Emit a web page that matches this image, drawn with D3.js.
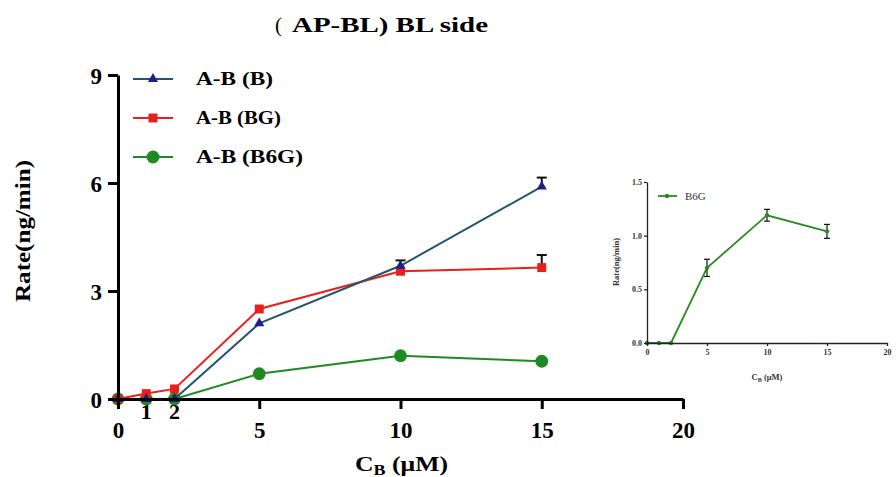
<!DOCTYPE html>
<html>
<head>
<meta charset="utf-8">
<script src="https://cdn.jsdelivr.net/npm/d3@7"></script>
<style>
  body { margin: 0; background: #fff; }
  svg { font-family: "Liberation Serif", "Times New Roman", serif; }
</style>
</head>
<body>
<div id="chart"></div>
<script>
// Data
const concentrations = [0, 1, 2, 5, 10, 15];
const rateB = [0, 0, 0, 2.1, 3.7, 5.9];
const rateBG = [0, 0.15, 0.28, 2.5, 3.55, 3.65];
const rateB6G = [0, 0, 0, 0.7, 1.2, 1.05];
const errB = [0, 0, 0, 0, 0.15, 0.25];
const errBG = [0, 0, 0, 0, 0, 0.35];
const errB6G = [0, 0, 0, 0, 0, 0];
const insetRate = [0, 0, 0, 0.7, 1.19, 1.04];
const insetErr = [0, 0, 0, 0.08, 0.055, 0.065];
const xTicks = [0, 5, 10, 15, 20];
const xExtraTicks = [1, 2];
const yTicks = [0, 3, 6, 9];
const insetYTicks = [0, 0.5, 1.0, 1.5];

const width = 896, height = 477;

const svg = d3.select("#chart").append("svg")
  .attr("width", width)
  .attr("height", height);

// Title (the source text is drawn a bit wide, so stretch it)
const title = svg.append("text")
  .attr("y", 32)
  .attr("font-weight", "bold")
  .attr("font-size", "21px");
title.append("tspan")
  .attr("x", 275)
  .attr("font-weight", "normal")
  .text("(");
title.append("tspan")
  .attr("x", 292)
  .attr("textLength", 196)
  .attr("lengthAdjust", "spacingAndGlyphs")
  .text("AP-BL) BL side");

// === Main chart ===
const x = d3.scaleLinear().domain([0, 20]).range([118, 683]);
const y = d3.scaleLinear().domain([0, 9]).range([399, 75]);

const series = [
  { name: "A-B (B)", len: 77, values: rateB, err: errB, line: "#24566b", marker: "#1a1f8a", shape: d3.symbolTriangle, size: 45 },
  { name: "A-B (BG)", len: 85, values: rateBG, err: errBG, line: "#e8201c", marker: "#e8201c", shape: d3.symbolSquare, size: 80 },
  { name: "A-B (B6G)", len: 107, values: rateB6G, err: errB6G, line: "#1f8a24", marker: "#1f8a24", shape: d3.symbolCircle, size: 130 }
];

const lineGen = d3.line()
  .x((d, i) => x(concentrations[i]))
  .y(d => y(d));

// draw lines: green first, then red, then blue on top
[2, 1, 0].forEach(k => {
  const s = series[k];
  svg.append("path")
    .datum(s.values)
    .attr("fill", "none")
    .attr("stroke", s.line)
    .attr("stroke-width", 2)
    .attr("d", lineGen);

  // upper error bars
  s.values.forEach((v, i) => {
    if (s.err[i] > 0) {
      const cx = x(concentrations[i]);
      svg.append("line")
        .attr("x1", cx).attr("x2", cx)
        .attr("y1", y(v)).attr("y2", y(v + s.err[i]))
        .attr("stroke", "#111").attr("stroke-width", 2);
      svg.append("line")
        .attr("x1", cx - 5).attr("x2", cx + 5)
        .attr("y1", y(v + s.err[i])).attr("y2", y(v + s.err[i]))
        .attr("stroke", "#111").attr("stroke-width", 2);
    }
  });

  svg.selectAll(null)
    .data(s.values)
    .enter()
    .append("path")
    .attr("transform", (d, i) => `translate(${x(concentrations[i])},${y(d)})`)
    .attr("d", d3.symbol().type(s.shape).size(s.size))
    .attr("fill", s.marker);
});

// Axes
const xAxis = svg.append("g")
  .attr("transform", `translate(0,${y(0)})`)
  .call(d3.axisBottom(x).tickValues(xTicks).tickSize(10).tickSizeOuter(0).tickPadding(13));
const yAxis = svg.append("g")
  .attr("transform", `translate(${x(0)},0)`)
  .call(d3.axisLeft(y).tickValues(yTicks).tickSize(10).tickSizeOuter(0).tickPadding(6));

[xAxis, yAxis].forEach(a => {
  a.select(".domain").attr("stroke", "#000").attr("stroke-width", 3);
  a.selectAll(".tick line").attr("stroke", "#000").attr("stroke-width", 3);
  a.selectAll(".tick text")
    .attr("font-family", "'Liberation Serif', serif")
    .attr("font-weight", "bold")
    .attr("font-size", "23px")
    .attr("fill", "#000");
});
yAxis.selectAll(".tick text").attr("dy", "0.35em");

// small labels at 1 and 2 just under the axis
svg.selectAll(null)
  .data(xExtraTicks)
  .enter()
  .append("text")
  .attr("x", d => x(d))
  .attr("y", y(0) + 20)
  .attr("text-anchor", "middle")
  .attr("font-weight", "bold")
  .attr("font-size", "22px")
  .text(d => d);

// Axis titles
svg.append("text")
  .attr("transform", `translate(30,231) rotate(-90)`)
  .attr("x", -71)
  .attr("font-weight", "bold")
  .attr("font-size", "22px")
  .attr("textLength", 142)
  .attr("lengthAdjust", "spacingAndGlyphs")
  .text("Rate(ng/min)");

const xt = svg.append("text")
  .attr("x", 355)
  .attr("y", 471)
  .attr("font-weight", "bold")
  .attr("font-size", "20px")
  .attr("textLength", 93)
  .attr("lengthAdjust", "spacingAndGlyphs");
xt.append("tspan").text("C");
xt.append("tspan").attr("font-size", "14px").attr("dy", 4).text("B");
xt.append("tspan").attr("dy", -4).text(" (μM)");

// Legend
series.forEach((s, i) => {
  const ly = 79 + i * 39;
  svg.append("line")
    .attr("x1", 133).attr("x2", 173)
    .attr("y1", ly).attr("y2", ly)
    .attr("stroke", s.line).attr("stroke-width", 2);
  svg.append("path")
    .attr("transform", `translate(153,${ly})`)
    .attr("d", d3.symbol().type(s.shape).size(s.size))
    .attr("fill", s.marker);
  svg.append("text")
    .attr("x", 196)
    .attr("y", ly)
    .attr("dy", "0.35em")
    .attr("font-weight", "bold")
    .attr("font-size", "18px")
    .attr("textLength", s.len)
    .attr("lengthAdjust", "spacingAndGlyphs")
    .text(s.name);
});

// === Inset chart ===
const xi = d3.scaleLinear().domain([0, 20]).range([647, 887]);
const yi = d3.scaleLinear().domain([0, 1.5]).range([343, 182]);
const insetGreen = "#2a8a22";

svg.append("path")
  .datum(insetRate)
  .attr("fill", "none")
  .attr("stroke", insetGreen)
  .attr("stroke-width", 1.8)
  .attr("d", d3.line().x((d, i) => xi(concentrations[i])).y(d => yi(d)));

insetRate.forEach((v, i) => {
  if (insetErr[i] > 0) {
    const cx = xi(concentrations[i]);
    const lo = yi(v - insetErr[i]), hi = yi(v + insetErr[i]);
    svg.append("line").attr("x1", cx).attr("x2", cx).attr("y1", lo).attr("y2", hi)
      .attr("stroke", "#111").attr("stroke-width", 1.2);
    [lo, hi].forEach(yy => {
      svg.append("line").attr("x1", cx - 3).attr("x2", cx + 3).attr("y1", yy).attr("y2", yy)
        .attr("stroke", "#111").attr("stroke-width", 1.2);
    });
  }
});

svg.selectAll(null)
  .data(insetRate)
  .enter()
  .append("circle")
  .attr("cx", (d, i) => xi(concentrations[i]))
  .attr("cy", d => yi(d))
  .attr("r", 2.2)
  .attr("fill", insetGreen);

const xiAxis = svg.append("g")
  .attr("transform", `translate(0,${yi(0)})`)
  .call(d3.axisBottom(xi).tickValues(xTicks).tickSize(3).tickSizeOuter(0).tickPadding(3));
const yiAxis = svg.append("g")
  .attr("transform", `translate(${xi(0)},0)`)
  .call(d3.axisLeft(yi).tickValues(insetYTicks).tickFormat(d3.format(".1f")).tickSize(3).tickSizeOuter(0).tickPadding(2));

[xiAxis, yiAxis].forEach(a => {
  a.select(".domain").attr("stroke", "#222").attr("stroke-width", 1.3);
  a.selectAll(".tick line").attr("stroke", "#222").attr("stroke-width", 1.3);
  a.selectAll(".tick text")
    .attr("font-family", "'Liberation Serif', serif")
    .attr("font-weight", "bold")
    .attr("font-size", "8px")
    .attr("fill", "#333");
});

svg.append("text")
  .attr("transform", `translate(619,262) rotate(-90)`)
  .attr("text-anchor", "middle")
  .attr("font-weight", "bold")
  .attr("font-size", "8.5px")
  .attr("fill", "#333")
  .text("Rate(ng/min)");

const xit = svg.append("text")
  .attr("x", 767)
  .attr("y", 380)
  .attr("text-anchor", "middle")
  .attr("font-weight", "bold")
  .attr("font-size", "8.5px")
  .attr("fill", "#333");
xit.append("tspan").text("C");
xit.append("tspan").attr("font-size", "6px").attr("dy", 2).text("B");
xit.append("tspan").attr("dy", -2).text(" (μM)");

// inset legend
svg.append("line")
  .attr("x1", 658).attr("x2", 677)
  .attr("y1", 196).attr("y2", 196)
  .attr("stroke", insetGreen).attr("stroke-width", 1.8);
svg.append("circle")
  .attr("cx", 667).attr("cy", 196).attr("r", 2.2).attr("fill", insetGreen);
svg.append("text")
  .attr("x", 685)
  .attr("y", 196)
  .attr("dy", "0.35em")
  .attr("font-size", "11px")
  .attr("fill", "#333")
  .text("B6G");
</script>
</body>
</html>
